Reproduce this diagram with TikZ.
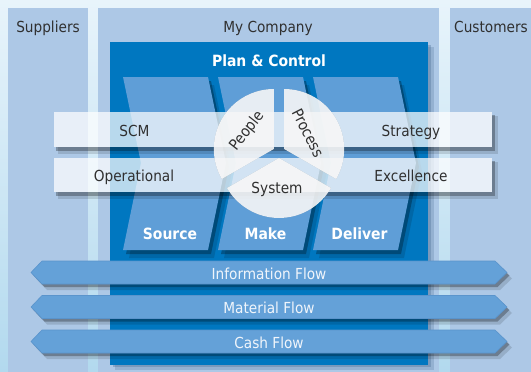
\documentclass[tikz,border=0pt]{standalone}
\usepackage{fontspec}
\setmainfont{DejaVu Sans}[FakeStretch=0.9]
\definecolor{bgtop}{HTML}{E8F4FB}
\definecolor{bgbot}{HTML}{B2D9EE}
\definecolor{colfill}{HTML}{ADC8E6}
\definecolor{boxblue}{HTML}{0077C0}
\definecolor{chevblue}{HTML}{5F9ED7}
\definecolor{flowblue}{HTML}{64A1D8}
\definecolor{flowedge}{HTML}{5A94CC}
\definecolor{txtgray}{HTML}{303030}
\definecolor{flowtxt}{HTML}{F0F5FB}
\definecolor{boxshadow}{HTML}{4A6F94}
\newcommand\fsreg{\fontsize{15.2}{18}\selectfont}
\newcommand\fsbold{\fontsize{15.5}{18}\selectfont\bfseries}
\tikzset{
  lbl/.style={text=txtgray, font=\fsreg, inner sep=0pt, anchor=base},
  boldlbl/.style={text=white, font=\fsbold, inner sep=0pt, anchor=base},
  flowlbl/.style={text=flowtxt, font=\fsreg, inner sep=0pt, anchor=base},
  shade1/.style={black, opacity=0.28},
  shade2/.style={black, opacity=0.13},
  bandfill/.style={white, opacity=0.72},
  sectorfill/.style={white, opacity=0.87},
}
\begin{document}
\begin{tikzpicture}[x=1pt,y=-1pt]
\useasboundingbox (0,0) rectangle (531,372);
\clip (0,0) rectangle (531,372);
\shade[top color=bgtop, bottom color=bgbot] (0,0) rectangle (531,372);
% columns
\fill[colfill] (8,8) rectangle (88,380);
\fill[colfill] (98,8) rectangle (439,380);
\fill[colfill] (450,8) rectangle (545,380);
\node[lbl] (sup) at (48,32.5) {Suppliers};
\node[lbl] (myc) at (268,32.5) {My Company};
\node[lbl, anchor=base west] (cus) at (454,32.5) {Customers};
% plan & control box
\fill[boxshadow, opacity=0.25] (428,47) rectangle (434,370);
\fill[boxshadow, opacity=0.25] (115,365) rectangle (428,370);
\fill[boxshadow, opacity=0.35] (428,45) rectangle (431,367);
\fill[boxshadow, opacity=0.35] (113,365) rectangle (428,367);
\fill[boxblue] (110,42) rectangle (428,365);
\node[boldlbl] (pc) at (269,66) {Plan \& Control};
% chevrons
\foreach \x in {123,218,313}{
  \fill[shade2, shift={(6,8)}] (\x,77) -- ++(85,0) -- ++(18,86) -- ++(-18,87) -- ++(-85,0) -- ++(18,-87) -- cycle;
  \fill[shade1, shift={(3,4)}] (\x,77) -- ++(85,0) -- ++(18,86) -- ++(-18,87) -- ++(-85,0) -- ++(18,-87) -- cycle;
  \fill[chevblue] (\x,77) -- ++(85,0) -- ++(18,86) -- ++(-18,87) -- ++(-85,0) -- ++(18,-87) -- cycle;
}
\node[boldlbl] (src) at (170,239) {Source};
\node[boldlbl] (mak) at (265.5,239) {Make};
\node[boldlbl] (dlv) at (359.5,239) {Deliver};
% bands
\foreach \ya/\yb in {112/147,158/192}{
  \fill[shade2] (58,\yb) rectangle (498,\yb+7);
  \fill[shade2] (492,\ya+4) rectangle (498,\yb);
  \fill[shade1] (56,\yb) rectangle (495,\yb+4);
  \fill[shade1] (492,\ya+3) rectangle (495,\yb);
  \fill[bandfill] (54,\ya) rectangle (492,\yb);
}
\node[lbl] (scm) at (134.5,136) {SCM};
\node[lbl] (str) at (411,136) {Strategy};
\node[lbl] (ope) at (134,181.5) {Operational};
\node[lbl] (exc) at (411,181.5) {Excellence};
% circle sectors
\coordinate (cpe) at (273.8,149);
\coordinate (cpr) at (284.2,149);
\coordinate (csy) at (279,158);
\begin{scope}[shift={(3,4)}]
  \fill[black,opacity=0.22] (cpe) -- ++(-90:60) arc[start angle=-90,end angle=-210,radius=60] -- cycle;
  \fill[black,opacity=0.22] (cpr) -- ++(30:60) arc[start angle=30,end angle=-90,radius=60] -- cycle;
  \fill[black,opacity=0.22] (csy) -- ++(150:60) arc[start angle=150,end angle=30,radius=60] -- cycle;
\end{scope}
\fill[sectorfill] (cpe) -- ++(-90:60) arc[start angle=-90,end angle=-210,radius=60] -- cycle;
\fill[sectorfill] (cpr) -- ++(30:60) arc[start angle=30,end angle=-90,radius=60] -- cycle;
\fill[sectorfill] (csy) -- ++(150:60) arc[start angle=150,end angle=30,radius=60] -- cycle;
\node[lbl, anchor=center, rotate=52] (peo) at (247,131) {People};
\node[lbl, anchor=center, rotate=-63] (pro) at (308,133) {Process};
\node[lbl] (sys) at (277,193) {System};
% flows
\foreach \y/\t/\n in {261/Information Flow/fi, 295.5/Material Flow/fm, 330/Cash Flow/fc}{
  \fill[shade2, shift={(5,6)}] (42,\y) -- (495,\y) -- (507,\y+11.5) -- (495,\y+23) -- (42,\y+23) -- (31,\y+11.5) -- cycle;
  \fill[shade1, shift={(2.5,3)}] (42,\y) -- (495,\y) -- (507,\y+11.5) -- (495,\y+23) -- (42,\y+23) -- (31,\y+11.5) -- cycle;
  \filldraw[fill=flowblue, draw=flowedge, line width=0.6pt] (42,\y) -- (495,\y) -- (507,\y+11.5) -- (495,\y+23) -- (42,\y+23) -- (31,\y+11.5) -- cycle;
  \node[flowlbl] (\n) at (269,\y+18.3) {\t};
}
\end{tikzpicture}
\end{document}
